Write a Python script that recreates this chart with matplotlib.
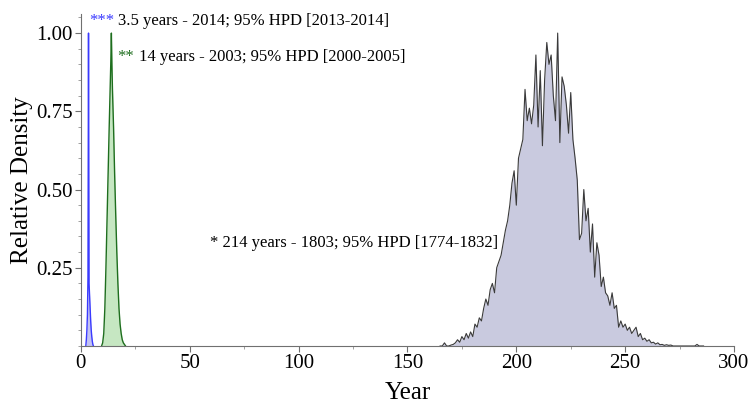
import numpy as np
import matplotlib
matplotlib.use("Agg")
import matplotlib.pyplot as plt
from matplotlib.ticker import MultipleLocator

plt.rcParams["font.family"] = ["Liberation Serif", "DejaVu Serif"]

# posterior densities
blue_years = [2.25, 2.5, 2.75, 3.0, 3.25, 3.5, 3.75, 4.0, 4.25, 4.5, 4.75, 5.0, 5.25, 5.5, 5.75]
blue_dens = [0, 0.02, 0.05, 0.10, 0.22, 1.0, 0.20, 0.16, 0.12, 0.08, 0.05, 0.03, 0.015, 0.005, 0]

green_years = [9.5, 10, 10.5, 11, 11.5, 12, 12.5, 13, 13.5, 13.75, 14, 14.25, 14.5, 15, 15.5,
               16, 16.5, 17, 17.5, 18, 18.5, 19, 19.5, 20, 20.5]
green_dens = [0, 0.01, 0.04, 0.12, 0.25, 0.40, 0.55, 0.70, 0.84, 0.91, 1.0, 0.90, 0.82, 0.70, 0.55,
              0.42, 0.30, 0.20, 0.12, 0.07, 0.04, 0.02, 0.01, 0.005, 0]

gray_years = list(range(165, 287))
gray_dens = [0, 0, 0.01, 0, 0, 0.003, 0.005, 0.01, 0.02, 0.012,
             0.03, 0.02, 0.04, 0.025, 0.045, 0.03, 0.07, 0.06, 0.09, 0.08,
             0.12, 0.15, 0.13, 0.18, 0.20, 0.17, 0.25, 0.27, 0.29, 0.33,
             0.37, 0.40, 0.45, 0.52, 0.56, 0.45, 0.60, 0.63, 0.66, 0.82,
             0.72, 0.76, 0.71, 0.77, 0.93, 0.70, 0.88, 0.64, 0.85, 0.97,
             0.90, 0.93, 0.80, 0.72, 1.00, 0.65, 0.86, 0.83, 0.77, 0.68,
             0.81, 0.66, 0.60, 0.53, 0.34, 0.36, 0.50, 0.40, 0.44, 0.30,
             0.39, 0.22, 0.33, 0.29, 0.19, 0.22, 0.17, 0.16, 0.13, 0.17,
             0.12, 0.13, 0.06, 0.08, 0.06, 0.07, 0.05, 0.06, 0.04, 0.05,
             0.06, 0.03, 0.04, 0.02, 0.025, 0.015, 0.02, 0.01, 0.012, 0.006,
             0.01, 0.004, 0.005, 0.002, 0.004, 0.002, 0.003, 0, 0, 0,
             0, 0, 0, 0, 0, 0, 0, 0, 0.005, 0,
             0, 0]

fig = plt.figure(figsize=(7.49, 4.04), dpi=100)
ax = fig.add_axes([0.108, 0.1436, 0.872, 0.821])

# gray - oldest
ax.fill_between(gray_years, gray_dens, color="#c9cadf", lw=0)
ax.plot(gray_years, gray_dens, color="#3a3a3a", lw=0.8)

# green
ax.fill_between(green_years, green_dens, color="#c6e7c2", lw=0)
ax.plot(green_years, green_dens, color="#1e6e1e", lw=1.0)

# blue
ax.fill_between(blue_years, blue_dens, color="#c2c2f2", lw=0)
ax.plot(blue_years, blue_dens, color="#3a3aff", lw=1.0)

ax.set_xlim(0, 300)
ax.set_ylim(0, 1.06)
ax.set_xticks([0, 50, 100, 150, 200, 250, 300])
ax.set_yticks([0.25, 0.50, 0.75, 1.00])
ax.set_yticklabels(["0.25", "0.50", "0.75", "1.00"])
ax.xaxis.set_minor_locator(MultipleLocator(25))
ax.yaxis.set_minor_locator(MultipleLocator(0.05))

for s in ["top", "right"]:
    ax.spines[s].set_visible(False)
for s in ["left", "bottom"]:
    ax.spines[s].set_color("#707070")
    ax.spines[s].set_linewidth(0.8)
ax.tick_params(which="major", length=4, width=0.8, color="#707070", labelsize=15, pad=2)
ax.tick_params(which="minor", length=2, width=0.6, color="#909090")

ax.set_xlabel("Year", fontsize=18, labelpad=6)
ax.set_ylabel("Relative Density", fontsize=18, labelpad=2)

# annotations
ax.text(3.7, 1.04, "***", color="#3a3aff", fontsize=12, va="center", ha="left")
ax.text(17.0, 1.04, "3.5 years - 2014; 95% HPD [2013-2014]", fontsize=12, va="center", ha="left")
ax.text(16.5, 0.925, "**", color="#1e6e1e", fontsize=12, va="center", ha="left")
ax.text(26.5, 0.925, "14 years - 2003; 95% HPD [2000-2005]", fontsize=12, va="center", ha="left")
ax.text(59.5, 0.33, "* 214 years - 1803; 95% HPD [1774-1832]", fontsize=12, va="center", ha="left")

fig.savefig("out.png", dpi=100)
